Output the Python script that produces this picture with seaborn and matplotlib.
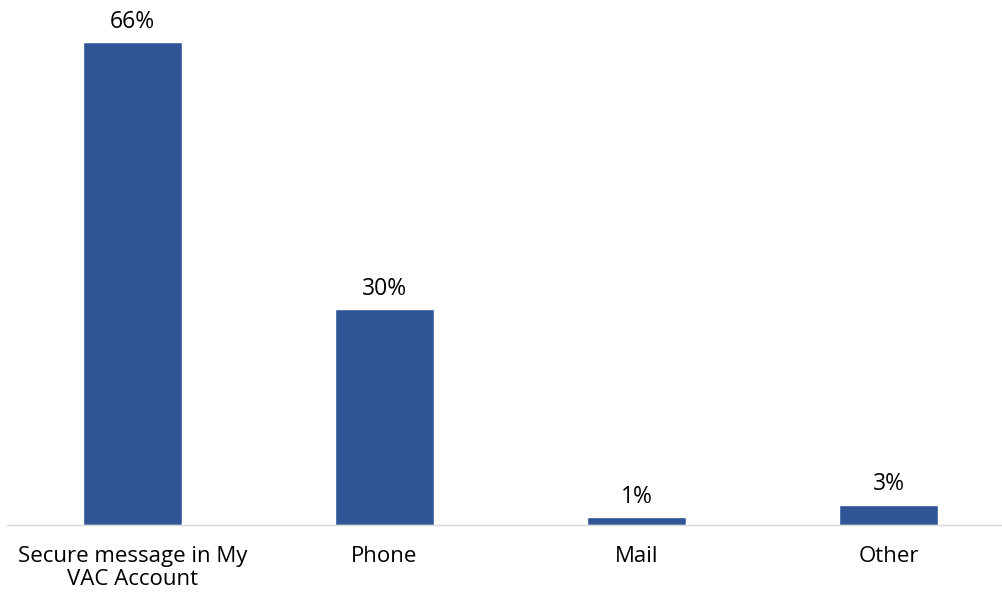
import pandas as pd
import matplotlib.pyplot as plt
import seaborn as sns

categories = ["Secure message in My\nVAC Account", "Phone", "Mail", "Other"]
values = [66, 29.5, 1.1, 2.8]
labels = ["66%", "30%", "1%", "3%"]

sns.set_theme(style="white")
plt.rcParams['font.family'] = ['Open Sans', 'DejaVu Sans']

df = pd.DataFrame({"category": categories, "pct": values})

fig = plt.figure(figsize=(10.03, 5.97), dpi=100)
# axes runs a little past the right edge, as in the original
ax = fig.add_axes([0.0065, 0.1206, 1.005, 0.8576])
sns.barplot(data=df, x="category", y="pct", color="#2F5597", saturation=1,
            width=0.39, ax=ax)

for bar, lab in zip(ax.patches, labels):
    ax.annotate(lab, (bar.get_x() + bar.get_width() / 2, bar.get_height()),
                xytext=(0, 6), textcoords="offset points",
                ha="center", va="bottom", fontsize=16.5, color="black")

ax.set_ylim(0, 70)
ax.set_xlim(-0.5, 3.5)
ax.set_xlabel("")
ax.set_ylabel("")
ax.set_yticks([])
ax.tick_params(axis="x", length=0, labelsize=16, labelcolor="black", pad=15)
for t in ax.get_xticklabels():
    t.set_linespacing(1.15)
for s in ["top", "right", "left"]:
    ax.spines[s].set_visible(False)
ax.spines["bottom"].set_color("#D9D9D9")
ax.spines["bottom"].set_linewidth(1)

fig.savefig("out.png", dpi=100)
